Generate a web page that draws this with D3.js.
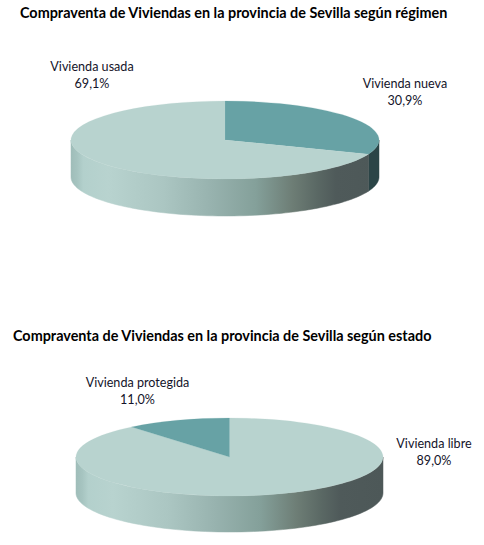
<!DOCTYPE html>
<html><head><meta charset="utf-8">
<script src="https://cdn.jsdelivr.net/npm/d3@7"></script>
<style>body{margin:0;background:#fff}svg{display:block}</style>
</head><body><svg id="c" width="484" height="545"></svg>
<script>
// ---- data ----
const titles = [
  "Compraventa de Viviendas en la provincia de Sevilla según régimen",
  "Compraventa de Viviendas en la provincia de Sevilla según estado"
];
const regimenCategories = ["Vivienda nueva", "Vivienda usada"];
const regimenValues = [30.9, 69.1];
const estadoCategories = ["Vivienda libre", "Vivienda protegida"];
const estadoValues = [89.0, 11.0];

// ---- layout / style ----
const LIGHT = "#b8d3cf", TEAL = "#67a2a5", TEAL_SIDE = "#2b4547";
const charts = [
  { title: titles[0], cats: regimenCategories, vals: regimenValues,
    colors: [TEAL, LIGHT], sides: [TEAL_SIDE, "grad"],
    cx: 225, cy: 140, rx: 154, ry: 39, depth: 37, tx: 20, ty: 18,
    labels: [{x: 405, y: 88}, {x: 92, y: 71}] },
  { title: titles[1], cats: estadoCategories, vals: estadoValues,
    colors: [LIGHT, TEAL], sides: ["grad", TEAL_SIDE],
    cx: 229.5, cy: 457, rx: 153.5, ry: 39, depth: 36, tx: 13, ty: 341,
    labels: [{x: 434, y: 448}, {x: 137.5, y: 387}] }
];
const gradStops = [
  [0, "#9fbdb9"], [0.02, "#a6c4c0"], [0.04, "#b3d0cc"], [0.12, "#b8d3cf"], [0.3, "#abc6c2"],
  [0.45, "#98b3af"], [0.6, "#84a09a"], [0.72, "#6d7d75"], [0.8, "#5a6864"],
  [0.86, "#4f5a5a"], [1, "#4d5858"]
];
const locale = d3.formatLocale({decimal: ",", thousands: ".", grouping: [3], currency: ["", "€"]});
const fmt = v => locale.format(".1f")(v) + "%";

const svg = d3.select("#c");
svg.append("rect").attr("width", 484).attr("height", 545).attr("fill", "#fff");
const defs = svg.append("defs");

charts.forEach((c, ci) => {
  const g = svg.append("g");
  const gid = "sideGrad" + ci;
  const lg = defs.append("linearGradient").attr("id", gid)
    .attr("gradientUnits", "userSpaceOnUse")
    .attr("x1", c.cx - c.rx).attr("x2", c.cx + c.rx).attr("y1", 0).attr("y2", 0);
  gradStops.forEach(s => lg.append("stop").attr("offset", s[0]).attr("stop-color", s[1]));

  const pie = d3.pie().sort(null).value(d => d)(c.vals);
  const ex = a => c.cx + c.rx * Math.sin(a);
  const ey = a => c.cy - c.ry * Math.cos(a);
  const line = d3.line();

  // side walls (front half only)
  pie.forEach((p, i) => {
    const a0 = Math.max(p.startAngle, Math.PI / 2), a1 = Math.min(p.endAngle, 3 * Math.PI / 2);
    if (a0 >= a1) return;
    const n = 80, top = [], bot = [];
    for (let k = 0; k <= n; k++) {
      const a = a0 + (a1 - a0) * k / n;
      top.push([ex(a), ey(a)]);
      bot.push([ex(a), ey(a) + c.depth]);
    }
    const pts = top.concat(bot.reverse());
    const fill = c.sides[i] === "grad" ? `url(#${gid})` : c.sides[i];
    g.append("path").attr("d", line(pts) + "Z")
      .attr("fill", fill).attr("stroke", fill).attr("stroke-width", 0.5);
  });

  // top faces
  const arc = d3.arc().innerRadius(0).outerRadius(c.rx);
  const tg = g.append("g").attr("transform", `translate(${c.cx},${c.cy}) scale(1,${c.ry / c.rx})`);
  tg.selectAll("path").data(pie).join("path")
    .attr("d", arc).attr("fill", (d, i) => c.colors[i])
    .attr("stroke", (d, i) => c.colors[i]).attr("stroke-width", 0.3);

  // title
  g.append("text").attr("x", c.tx).attr("y", c.ty)
    .attr("font-family", "Lato, 'Open Sans', sans-serif").attr("font-weight", "bold")
    .attr("font-size", 14.4).attr("fill", "#000").text(c.title);

  // labels
  pie.forEach((p, i) => {
    const t = g.append("text").attr("text-anchor", "middle")
      .attr("font-family", "Lato, 'Open Sans', sans-serif").attr("font-size", 12.6)
      .attr("fill", "#14142a");
    t.append("tspan").attr("x", c.labels[i].x).attr("y", c.labels[i].y).text(c.cats[i]);
    t.append("tspan").attr("x", c.labels[i].x).attr("y", c.labels[i].y + 17).text(fmt(c.vals[i]));
  });
});
</script>
</body></html>
